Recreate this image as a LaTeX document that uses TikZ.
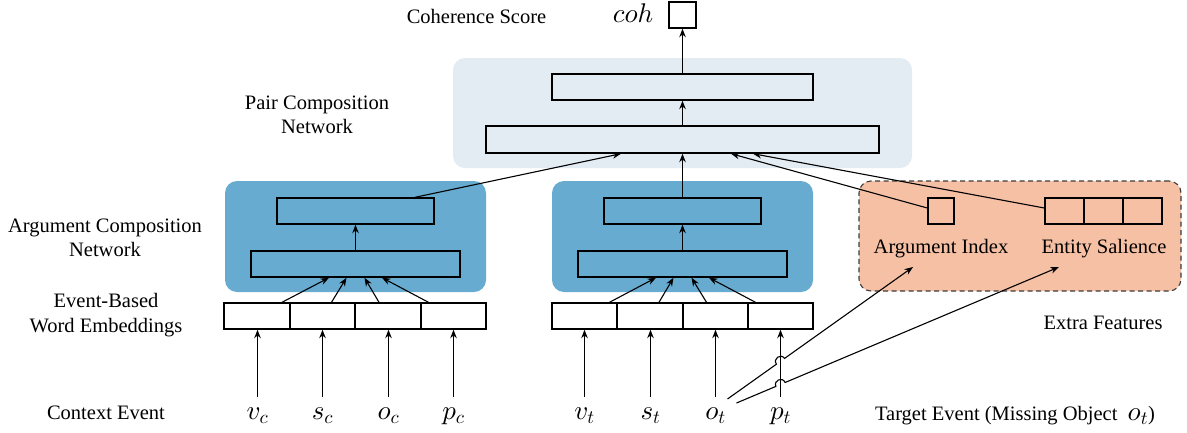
\documentclass[tikz,border=0pt]{standalone}
\usepackage{fontspec}
\setmainfont{Liberation Serif}
\DeclareFontShape{OML}{cmm}{m}{it}{<->cmmi10}{}
\DeclareFontShape{OT1}{cmr}{m}{n}{<->cmr10}{}
\DeclareFontShape{OMS}{cmsy}{m}{n}{<->cmsy10}{}
\usetikzlibrary{arrows.meta,calc,intersections}
\definecolor{pairbg}{RGB}{227,235,243}
\definecolor{argbg}{RGB}{103,171,208}
\definecolor{extbg}{RGB}{246,192,164}
\definecolor{dashc}{RGB}{60,60,60}
\newcommand{\txtsize}{\fontsize{20.5}{24.5}\selectfont}
\newcommand{\mthsize}{\fontsize{27}{30}\selectfont}
\begin{document}
\begin{tikzpicture}[x=1pt,y=-1pt,
  box/.style={draw=black, line width=1.4pt, inner sep=0pt, minimum height=26pt},
  wbox/.style={box, fill=white},
  bgbox/.style={rounded corners=12pt, inner sep=0pt, draw=none},
  lbl/.style={font=\txtsize, align=center, inner sep=0pt},
  var/.style={font=\mthsize, inner sep=0pt, text height=22pt, text depth=6pt, anchor=north},
  arr/.style={line width=1.1pt, -{Stealth[length=8.5pt,width=6.5pt]}},
]
\useasboundingbox (0,0) rectangle (1187,432);

% backgrounds
\node[bgbox, fill=pairbg, minimum width=459pt, minimum height=110pt] (pairbg) at (682.5,113) {};
\node[bgbox, fill=argbg, minimum width=261pt, minimum height=111pt] (argbgL) at (355.5,236.5) {};
\node[bgbox, fill=argbg, minimum width=261pt, minimum height=111pt] (argbgR) at (682.5,236.5) {};
\node[bgbox, fill=extbg, draw=dashc, line width=1.1pt, dash pattern=on 5pt off 3.5pt, minimum width=322pt, minimum height=110pt] (extbg) at (1020,236) {};

% pair composition network
\node[wbox, minimum width=27pt] (cohbox) at (682.5,15) {};
\node[box, minimum width=261pt] (pu) at (682.5,87) {};
\node[box, minimum width=393pt, minimum height=27pt] (pl) at (682.5,139.5) {};

% argument composition networks
\node[box, minimum width=157pt] (al1) at (355.5,211) {};
\node[box, minimum width=209pt] (al2) at (355.5,264) {};
\node[box, minimum width=157pt] (bl1) at (682.5,211) {};
\node[box, minimum width=209pt] (bl2) at (682.5,264) {};

% extra features
\node[box, minimum width=26pt] (ai) at (941,211) {};
\node[box, minimum width=39pt] (es1) at (1064.5,211) {};
\node[box, minimum width=39pt] (es2) at (1103.5,211) {};
\node[box, minimum width=39pt] (es3) at (1142.5,211) {};

% embeddings
\node[wbox, minimum width=66pt] (ec1) at (257,316) {};
\node[wbox, minimum width=65pt] (ec2) at (322.5,316) {};
\node[wbox, minimum width=66pt] (ec3) at (388,316) {};
\node[wbox, minimum width=65pt] (ec4) at (453.5,316) {};
\node[wbox, minimum width=65pt] (et1) at (584.5,316) {};
\node[wbox, minimum width=66pt] (et2) at (650,316) {};
\node[wbox, minimum width=65pt] (et3) at (715.5,316) {};
\node[wbox, minimum width=65pt] (et4) at (780.5,316) {};

% labels
\node[lbl] (cohlbl) at (476.5,16) {Coherence Score};
\node[font=\mthsize, inner sep=0pt] (coh) at (633,13.5) {$coh$};
\node[lbl] (pairlbl) at (317,115) {Pair Composition\\Network};
\node[lbl] (arglbl) at (105,238) {Argument Composition\\Network};
\node[lbl] (emblbl) at (106,315) {Event-Based\\Word Embeddings};
\node[lbl, anchor=base] (ctxlbl) at (106,419) {Context Event};
\node[lbl, anchor=base] (tgtlbl) at (1015,420) {Target Event (Missing Object\ \ {\mthsize$o_t$})};
\node[lbl] (extlbl) at (1103,323) {Extra Features};
\node[lbl] (ailbl) at (941,249) {Argument Index};
\node[lbl] (eslbl) at (1104,249) {Entity Salience};

% variables
\node[var] (vc) at (257.5,397) {$v_c$};
\node[var] (sc) at (322.5,397) {$s_c$};
\node[var] (oc) at (388.5,397) {$o_c$};
\node[var] (pc) at (453.5,397) {$p_c$};
\node[var] (vt) at (584.5,397) {$v_t$};
\node[var] (st) at (650.5,397) {$s_t$};
\node[var] (ot) at (715.5,397) {$o_t$};
\node[var] (pt) at (780.5,397) {$p_t$};

% input arrows
\draw[arr] (vc) -- (vc |- ec1.south);
\draw[arr] (sc) -- (sc |- ec2.south);
\draw[arr] (oc) -- (oc |- ec3.south);
\draw[arr] (pc) -- (pc |- ec4.south);
\draw[arr] (vt) -- (vt |- et1.south);
\draw[arr] (st) -- (st |- et2.south);
\draw[arr] (ot) -- (ot |- et3.south);
\draw[arr, name path=ptline] (pt) -- (pt |- et4.south);

% embeddings to argument composition
\draw[arr] ([xshift=25pt]ec1.north) -- ([xshift=-26.5pt]al2.south);
\draw[arr] ([xshift=9pt]ec2.north) -- ([xshift=-9pt]al2.south);
\draw[arr] ([xshift=-9pt]ec3.north) -- ([xshift=9pt]al2.south);
\draw[arr] ([xshift=-25pt]ec4.north) -- ([xshift=26.5pt]al2.south);
\draw[arr] ([xshift=25pt]et1.north) -- ([xshift=-26.5pt]bl2.south);
\draw[arr] ([xshift=9pt]et2.north) -- ([xshift=-9pt]bl2.south);
\draw[arr] ([xshift=-9pt]et3.north) -- ([xshift=9pt]bl2.south);
\draw[arr] ([xshift=-25pt]et4.north) -- ([xshift=26.5pt]bl2.south);
\draw[arr] (al2) -- (al1);
\draw[arr] (bl2) -- (bl1);

% to pair composition
\draw[arr] ([xshift=59.5pt]al1.north) -- ([xshift=-61.5pt]pl.south);
\draw[arr] (bl1) -- (pl);
\draw[arr] ([yshift=3pt]ai.west) -- ([xshift=48.5pt]pl.south);
\draw[arr] ([yshift=3pt]es1.west) -- ([xshift=70.5pt]pl.south);
\draw[arr] (pl) -- (pu);
\draw[arr] (pu) -- (cohbox);

% o_t to extra features, hopping over the p_t arrow
\coordinate (s1) at ([xshift=12pt,yshift=-2pt]ot.north);
\coordinate (s2) at ([xshift=21pt,yshift=-6pt]ot.north);
\coordinate (t1) at (913,267);
\coordinate (t2) at (1059,267);
\path[name path=l1] (s1) -- (t1);
\path[name path=l2] (s2) -- (t2);
\path[name intersections={of=l1 and ptline, by=x1}];
\path[name intersections={of=l2 and ptline, by=x2}];
\draw[arr] (s1) -- ($(x1)!5pt!(s1)$) to[bend left=90, looseness=1.7] ($(x1)!5pt!(t1)$) -- (t1);
\draw[arr] (s2) -- ($(x2)!5pt!(s2)$) to[bend left=90, looseness=1.7] ($(x2)!5pt!(t2)$) -- (t2);
\end{tikzpicture}
\end{document}
